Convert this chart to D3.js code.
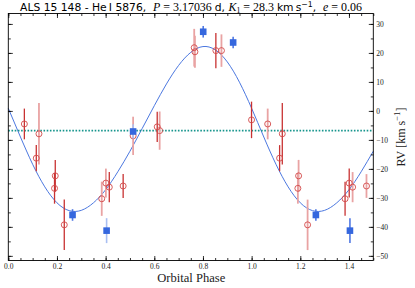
<!DOCTYPE html>
<html>
<head>
<meta charset="utf-8">
<script src="https://cdn.jsdelivr.net/npm/d3@7"></script>
<style>
  body { margin: 0; background: #fff; }
  svg { display: block; }
</style>
</head>
<body>
<svg id="chart"></svg>
<script>
// orbit model, every 0.05 in phase
const curvePhase = [0, 0.05, 0.1, 0.15, 0.2, 0.25, 0.3, 0.35, 0.4, 0.45, 0.5, 0.55, 0.6, 0.65, 0.7, 0.75,
                    0.8, 0.85, 0.9, 0.95, 1.0, 1.05, 1.1, 1.15, 1.2, 1.25, 1.3, 1.35, 1.4, 1.45, 1.5];
const curveRv = [0.9, -9.0, -18.4, -26.2, -31.7, -34.4, -34.3, -31.7, -27.2, -21.0, -13.9, -6.1, 1.8, 9.3, 15.7, 20.2,
                 22.2, 21.1, 16.9, 9.9, 0.9, -9.0, -18.4, -26.2, -31.7, -34.4, -34.3, -31.7, -27.2, -21.0, -13.9];

// He I 5876 velocities (phase in [0, 1), repeated at phase + 1 up to 1.5)
const redPhase = [0.066, 0.115, 0.126, 0.190, 0.193, 0.230, 0.384, 0.401, 0.415, 0.472, 0.513, 0.612, 0.622, 0.764, 0.767, 0.853, 0.876, 0.9996];
const redRv    = [-4.5, -16.3, -7.9, -26.7, -22.4, -39.3, -30.3, -24.9, -26.3, -25.9, -8.6, -5.5, -6.8, 21.8, 20.4, 20.8, 20.8, -3.1];
const redErr   = [5.3, 4.5, 10.6, 5.3, 5.5, 8.7, 5.9, 5.0, 5.2, 4.1, 6.6, 5.2, 6.6, 6.5, 5.5, 6.1, 5.6, 6.3];
const redTone     = ['a', 'a', 'b', 'a', 'a', 'a', 'b', 'b', 'a', 'a', 'b', 'a', 'b', 'b', 'b', 'a', 'b', 'a'];
const redToneWrap = ['b', 'a', 'a', 'b', 'b', 'b', 'a', 'a', 'b', 'b', 'b', 'a', 'b', 'b', 'b', 'a', 'b', 'a'];

const bluePhase = [0.264, 0.404, 0.513, 0.801, 0.924];
const blueRv    = [-35.9, -41.3, -7.1, 27.3, 23.6];
const blueErr   = [2.0, 4.3, 2.5, 2.0, 2.0];
const blueTone     = ['a', 'b', 'b', 'a', 'a'];
const blueToneWrap = ['a', 'a', 'a', 'a', 'a'];

const gammaRv = -6.8;

const phaseTicks = [0, 0.2, 0.4, 0.6, 0.8, 1.0, 1.2, 1.4];
const rvTicks = [-50, -40, -30, -20, -10, 0, 10, 20, 30];

class RVChart {
    constructor(config) {
        this.config = {
            parent: config.parent,
            width: config.width || 415,
            height: config.height || 288,
            margin: config.margin || {top: 13.5, right: 41.7, bottom: 27.5, left: 8.3}
        };
        this.init();
    }

    init() {
        let self = this;
        self.svg = d3.select(self.config.parent)
            .attr('width', self.config.width)
            .attr('height', self.config.height);

        self.inner_width = self.config.width - self.config.margin.left - self.config.margin.right;
        self.inner_height = self.config.height - self.config.margin.top - self.config.margin.bottom;

        self.chart = self.svg.append('g')
            .attr('transform', `translate(${self.config.margin.left}, ${self.config.margin.top})`);

        self.xscale = d3.scaleLinear().domain([0, 1.5]).range([0, self.inner_width]);
        self.yscale = d3.scaleLinear().domain([-51.6, 33.6]).range([self.inner_height, 0]);

        self.red = d3.scaleOrdinal().domain(['a', 'b']).range(['#c83232', '#e9a3a3']);
        self.blue = d3.scaleOrdinal().domain(['a', 'b']).range(['#4f78e3', '#a9bff2']);
    }

    // each observation plus its copy one cycle later, kept inside the x domain
    wrap(phase, rv, err, tone, toneWrap) {
        let pts = [];
        phase.forEach((p, i) => {
            pts.push({phase: p, rv: rv[i], err: err[i], tone: tone[i]});
            if (p + 1 <= 1.5) pts.push({phase: p + 1, rv: rv[i], err: err[i], tone: toneWrap[i]});
        });
        return pts;
    }

    // scale every font size inside a text so that it spans the wanted width
    fitWidth(text, target) {
        let w = text.node().getComputedTextLength();
        let k = target / w;
        text.selectAll('tspan').each(function () {
            let t = d3.select(this);
            t.attr('font-size', +t.attr('font-size') * k);
            t.attr('dy', +t.attr('dy') * k);
        });
    }

    render() {
        let self = this;
        const W = self.inner_width, H = self.inner_height;
        const serif = '"Liberation Serif", "DejaVu Serif", serif';
        const sans = '"DejaVu Sans", sans-serif';

        // model curve
        const line = d3.line()
            .x(d => self.xscale(d[0]))
            .y(d => self.yscale(d[1]))
            .curve(d3.curveNatural);
        self.chart.append('path')
            .datum(curvePhase.map((p, i) => [p, curveRv[i]]))
            .attr('d', line)
            .attr('fill', 'none')
            .attr('stroke', '#4c78e0')
            .attr('stroke-width', 1);

        // systemic velocity
        self.chart.append('line')
            .attr('x1', self.xscale(0)).attr('x2', self.xscale(1.5))
            .attr('y1', self.yscale(gammaRv)).attr('y2', self.yscale(gammaRv))
            .attr('stroke', '#17958d')
            .attr('stroke-width', 1.6)
            .attr('stroke-dasharray', '1.6,1.6');

        const reds = self.wrap(redPhase, redRv, redErr, redTone, redToneWrap);
        const blues = self.wrap(bluePhase, blueRv, blueErr, blueTone, blueToneWrap);

        self.chart.selectAll('line.rerr')
            .data(reds)
            .enter()
            .append('line')
            .attr('class', 'rerr')
            .attr('x1', d => self.xscale(d.phase)).attr('x2', d => self.xscale(d.phase))
            .attr('y1', d => self.yscale(d.rv - d.err)).attr('y2', d => self.yscale(d.rv + d.err))
            .attr('stroke', d => self.red(d.tone))
            .attr('stroke-width', d => d.tone == 'a' ? 1.3 : 1.8);

        self.chart.selectAll('circle')
            .data(reds)
            .enter()
            .append('circle')
            .attr('cx', d => self.xscale(d.phase))
            .attr('cy', d => self.yscale(d.rv))
            .attr('r', 3)
            .attr('fill', 'none')
            .attr('stroke', '#d4494a')
            .attr('stroke-width', 0.9);

        self.chart.selectAll('line.berr')
            .data(blues)
            .enter()
            .append('line')
            .attr('class', 'berr')
            .attr('x1', d => self.xscale(d.phase)).attr('x2', d => self.xscale(d.phase))
            .attr('y1', d => self.yscale(d.rv - d.err)).attr('y2', d => self.yscale(d.rv + d.err))
            .attr('stroke', d => self.blue(d.tone))
            .attr('stroke-width', 1.6);

        self.chart.selectAll('rect.sq')
            .data(blues)
            .enter()
            .append('rect')
            .attr('class', 'sq')
            .attr('x', d => self.xscale(d.phase) - 3.3)
            .attr('y', d => self.yscale(d.rv) - 3.3)
            .attr('width', 6.6)
            .attr('height', 6.6)
            .attr('fill', '#3567de');

        // axes: ticks point inward on all four sides
        const minorX = d3.range(0, 1.5001, 0.05);
        const minorY = d3.range(-50, 30.001, 5);
        const fmtX = d3.format('.1f');

        const axes = [
            [d3.axisBottom(self.xscale).tickValues(phaseTicks).tickFormat(fmtX).tickSize(-4.5).tickPadding(3), `translate(0,${H})`, true],
            [d3.axisBottom(self.xscale).tickValues(minorX).tickFormat('').tickSize(-2.5), `translate(0,${H})`, false],
            [d3.axisTop(self.xscale).tickValues(phaseTicks).tickFormat('').tickSize(-4.5), 'translate(0,0)', false],
            [d3.axisTop(self.xscale).tickValues(minorX).tickFormat('').tickSize(-2.5), 'translate(0,0)', false],
            [d3.axisRight(self.yscale).tickValues(rvTicks).tickFormat(d3.format('d')).tickSize(-4.5).tickPadding(3), `translate(${W},0)`, true],
            [d3.axisRight(self.yscale).tickValues(minorY).tickFormat('').tickSize(-2.5), `translate(${W},0)`, false],
            [d3.axisLeft(self.yscale).tickValues(rvTicks).tickFormat('').tickSize(-4.5), 'translate(0,0)', false],
            [d3.axisLeft(self.yscale).tickValues(minorY).tickFormat('').tickSize(-2.5), 'translate(0,0)', false]
        ];
        axes.forEach(([ax, tr, labelled]) => {
            let g = self.chart.append('g').attr('transform', tr).call(ax);
            g.select('.domain').remove();
            g.selectAll('line').attr('stroke', '#000').attr('stroke-width', 0.8);
            if (labelled) {
                g.selectAll('text')
                    .attr('font-family', serif)
                    .attr('font-size', 7.5)
                    .attr('fill', '#222');
            }
        });

        self.chart.append('rect')
            .attr('width', W).attr('height', H)
            .attr('fill', 'none')
            .attr('stroke', '#000')
            .attr('stroke-width', 0.9);

        // x label
        let xl = self.svg.append('text')
            .attr('x', self.config.margin.left + W / 2 + 0.5)
            .attr('y', 282)
            .attr('text-anchor', 'middle')
            .attr('font-family', serif)
            .attr('fill', '#222');
        xl.append('tspan').attr('font-size', 11).attr('dy', 0).text('Orbital Phase');
        self.fitWidth(xl, 68);

        // y label on the right
        let yl = self.svg.append('text')
            .attr('transform', `translate(404.5, ${self.config.margin.top + H / 2}) rotate(-90)`)
            .attr('text-anchor', 'middle')
            .attr('font-family', serif)
            .attr('fill', '#222');
        yl.append('tspan').attr('font-size', 10.5).attr('dy', 0).text('RV [km s');
        yl.append('tspan').attr('font-size', 7.5).attr('dy', -4).text('\u22121');
        yl.append('tspan').attr('font-size', 10.5).attr('dy', 4).text(']');
        self.fitWidth(yl, 59);

        // title
        const pieces = [
            {t: 'ALS 15 148 - He\u2009I 5876,  ', f: sans},
            {t: 'P', f: serif, i: true},
            {t: ' = 3.17036 ', f: serif},
            {t: 'd, ', f: sans},
            {t: 'K', f: serif, i: true},
            {t: '1', f: serif, sub: true},
            {t: ' = 28.3 ', f: serif},
            {t: 'km\u2009s', f: sans},
            {t: '\u22121', f: sans, sup: true},
            {t: ',  ', f: sans},
            {t: 'e', f: serif, i: true},
            {t: ' = 0.06', f: serif}
        ];
        let title = self.svg.append('text')
            .attr('x', 191)
            .attr('y', 11)
            .attr('text-anchor', 'middle')
            .style('white-space', 'pre');
        let shift = 0;
        pieces.forEach(p => {
            let dy = 0, size = (p.f == serif ? 10 : 9);
            if (p.sub) { dy = 2 - shift; size = 6.5; }
            else if (p.sup) { dy = -3.5 - shift; size = 6.5; }
            else { dy = -shift; }
            shift += dy;
            title.append('tspan')
                .attr('dy', dy)
                .attr('font-family', p.f)
                .attr('font-style', p.i ? 'italic' : 'normal')
                .attr('font-size', size)
                .text(p.t);
        });
        self.fitWidth(title, 342);
    }
}

let chart = new RVChart({parent: '#chart', width: 415, height: 288});
chart.render();
</script>
</body>
</html>
